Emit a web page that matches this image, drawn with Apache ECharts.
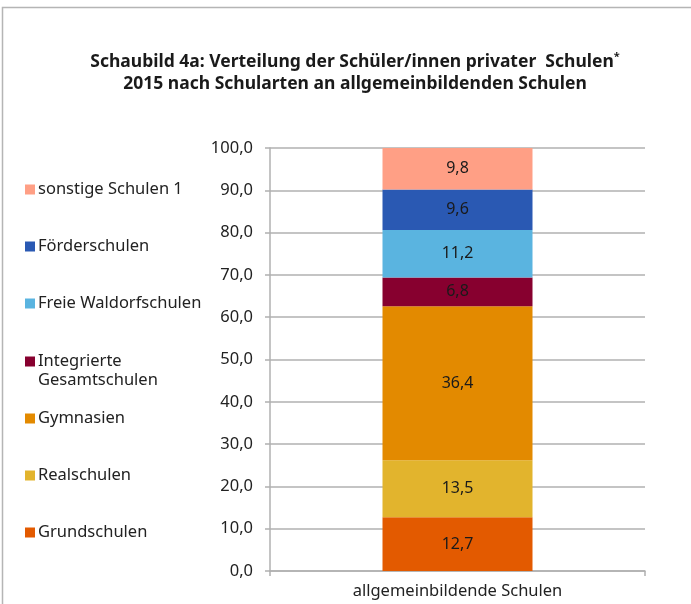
<!DOCTYPE html>
<html><head><meta charset="utf-8">
<script src="https://cdn.jsdelivr.net/npm/echarts@6/dist/echarts.min.js"></script>
<style>html,body{margin:0;padding:0;background:#fff}#c{width:691px;height:604px}</style>
</head><body><div id="c"></div>
<script>
const categories = ['allgemeinbildende Schulen'];
const seriesNames = ['Grundschulen','Realschulen','Gymnasien','Integrierte Gesamtschulen','Freie Waldorfschulen','Förderschulen','sonstige Schulen 1'];
const grundschulen = [12.7];
const realschulen = [13.5];
const gymnasien = [36.4];
const integrierte = [6.8];
const waldorf = [11.2];
const foerder = [9.6];
const sonstige = [9.8];
const colors = ['#E35A00','#E2B42D','#E38A00','#87002F','#5AB4E0','#2A59B3','#FF9F85'];
const values = [grundschulen, realschulen, gymnasien, integrierte, waldorf, foerder, sonstige];

const FONT = 'Noto Sans';
const chart = echarts.init(document.getElementById('c'));

const legendCenters = {'sonstige Schulen 1':188,'Förderschulen':245,'Freie Waldorfschulen':302,'Integrierte Gesamtschulen':360,'Gymnasien':417,'Realschulen':474,'Grundschulen':531};
const legends = seriesNames.map(n => {
  const l = {
    data:[n], left:20, top:legendCenters[n] - 12, itemWidth:10, itemHeight:10, itemGap:0,
    icon:'rect', selectedMode:false,
    textStyle:{fontFamily:FONT, fontSize:16.5, color:'#222', padding:[0,0,0,-2]}
  };
  if (n === 'Integrierte Gesamtschulen') l.formatter = () => 'Integrierte';
  return l;
});

chart.setOption({
  animation:false,
  backgroundColor:'#fff',
  textStyle:{fontFamily:FONT},
  title:{
    text:'Schaubild 4a: Verteilung der Schüler/innen privater  Schulen{s|*}\n2015 nach Schularten an allgemeinbildenden Schulen',
    left:350, top:46, textAlign:'center',
    textStyle:{fontFamily:FONT, fontSize:17.5, fontWeight:'bold', color:'#1a1a1a', lineHeight:22,
      rich:{s:{fontFamily:FONT, fontSize:11, fontWeight:'bold', color:'#1a1a1a', verticalAlign:'top', padding:[0,0,8,0]}}}
  },
  legend: legends,
  graphic:[
    {type:'rect', shape:{x:2.5, y:7.5, width:760, height:700}, style:{fill:'none', stroke:'#b5b5b5', lineWidth:1.5}, silent:true},
    {type:'text', left:38, top:372, style:{text:'Gesamtschulen', font:'16.5px "Noto Sans"', fill:'#222'}, silent:true}
  ],
  grid:{left:270, right:46, top:148, bottom:33},
  xAxis:{
    type:'category', data:categories,
    axisLine:{lineStyle:{color:'#b0b0b0', width:1.5}},
    axisTick:{show:true, length:5, lineStyle:{color:'#b0b0b0', width:1.5}},
    axisLabel:{fontFamily:FONT, fontSize:16.5, color:'#222', margin:12}
  },
  yAxis:{
    type:'value', min:0, max:100, interval:10,
    axisLine:{show:true, lineStyle:{color:'#b0b0b0', width:1.5}},
    axisTick:{show:true, length:5, lineStyle:{color:'#b0b0b0', width:1.5}},
    splitLine:{lineStyle:{color:'#b0b0b0', width:1.5}},
    axisLabel:{fontFamily:FONT, fontSize:16.5, color:'#222', margin:17, formatter:v => v.toFixed(1).replace('.', ',')}
  },
  series: seriesNames.map((n,i) => ({
    name:n, type:'bar', stack:'total', barWidth:'40%', data:values[i],
    itemStyle:{color:colors[i]},
    label:{show:true, position:'inside', fontFamily:FONT, fontSize:16, color:'#1a1a1a',
      formatter:p => p.value.toFixed(1).replace('.', ',')}
  }))
});
</script></body></html>
